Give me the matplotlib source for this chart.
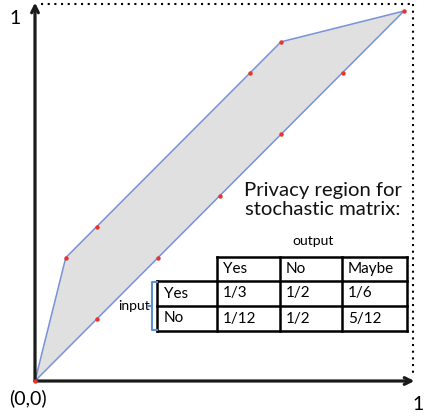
import numpy as np
import matplotlib
matplotlib.use('Agg')
import matplotlib.pyplot as plt
from matplotlib.patches import Polygon

plt.rcParams['font.family'] = ['Lato', 'DejaVu Sans']

# privacy region vertices (upper boundary then back along the diagonal)
region_x = [0, 1/12, 2/3, 1]
region_y = [0, 1/3, 11/12, 1]

# red points on the boundary
pts_x = [0, 1/12, 1/6, 7/12, 2/3, 1, 5/6, 2/3, 1/2, 1/3, 1/6]
pts_y = [0, 1/3, 5/12, 5/6, 11/12, 1, 5/6, 2/3, 1/2, 1/3, 1/6]

# stochastic matrix
col_labels = ['Yes', 'No', 'Maybe']
row_labels = ['Yes', 'No']
cells = [['1/3', '1/2', '1/6'],
         ['1/12', '1/2', '5/12']]

W, H = 430, 416
fig = plt.figure(figsize=(W / 100, H / 100), dpi=100)
ax = fig.add_axes([0, 0, 1, 1])
# pixel (35,381) -> (0,0), pixel (404,11) -> (1,1)
ux, uy = 369.0, 370.0
ax.set_xlim(-35 / ux, (W - 35) / ux)
ax.set_ylim((381 - H) / uy, 381 / uy)
ax.axis('off')


def fp(x, y):
    # figure pixel -> axes fraction
    return x / W, 1 - y / H


poly = Polygon(list(zip(region_x, region_y)), closed=True, facecolor='#e0e0e0',
               edgecolor='#7892d8', lw=1.1, zorder=2)
ax.add_patch(poly)

# dotted box
top = (381 - 4) / uy
right = (413 - 35) / ux
ax.plot([6 / ux, right], [top, top], color='black', lw=1.5, ls=(0, (1, 2.2)), zorder=1)
ax.plot([right, right], [top, 8 / uy], color='black', lw=1.5, ls=(0, (1, 2.2)), zorder=1)

# axes with arrows
ax.annotate('', xy=(0, top + 0.004), xytext=(0, 0),
            arrowprops=dict(arrowstyle='->', lw=2.3, color='#1a1a1a', shrinkA=0, shrinkB=0,
                            mutation_scale=12), zorder=3)
ax.annotate('', xy=(right + 0.004, 0), xytext=(0, 0),
            arrowprops=dict(arrowstyle='->', lw=2.3, color='#1a1a1a', shrinkA=0, shrinkB=0,
                            mutation_scale=12), zorder=3)

ax.plot(pts_x, pts_y, 'o', color='#e8352b', ms=3.2, mec='none', zorder=4)

ax.text(*fp(15, 19), '1', transform=ax.transAxes, fontsize=14, ha='center', va='center')
ax.text(*fp(28, 398), '(0,0)', transform=ax.transAxes, fontsize=14, ha='center', va='center')
ax.text(*fp(418, 405), '1', transform=ax.transAxes, fontsize=14, ha='center', va='center')

ax.text(*fp(323, 200), 'Privacy region for\nstochastic matrix:', transform=ax.transAxes,
        fontsize=14.6, ha='center', va='center', linespacing=1.15, color='#111111')
ax.text(*fp(313, 241), 'output', transform=ax.transAxes, fontsize=10, ha='center', va='center')
ax.text(*fp(150, 306), 'input', transform=ax.transAxes, fontsize=10, ha='right', va='center')

# table drawn as lines
xs = [157, 217, 280, 342, 407]
ys = [257, 281, 306, 331]
lw_t = 1.8
# header row (no corner cell)
for x in xs[1:]:
    ax.plot(*zip(fp(x, ys[0]), fp(x, ys[-1])), transform=ax.transAxes, color='black', lw=lw_t,
            solid_capstyle='projecting', zorder=5)
ax.plot(*zip(fp(xs[0], ys[1]), fp(xs[0], ys[-1])), transform=ax.transAxes, color='black', lw=lw_t,
        solid_capstyle='projecting', zorder=5)
ax.plot(*zip(fp(xs[1], ys[0]), fp(xs[-1], ys[0])), transform=ax.transAxes, color='black', lw=lw_t,
        solid_capstyle='projecting', zorder=5)
for y in ys[1:]:
    ax.plot(*zip(fp(xs[0], y), fp(xs[-1], y)), transform=ax.transAxes, color='black', lw=lw_t,
            solid_capstyle='projecting', zorder=5)

for j, lab in enumerate(col_labels):
    ax.text(*fp(xs[j + 1] + 6, (ys[0] + ys[1]) / 2), lab, transform=ax.transAxes,
            fontsize=11, ha='left', va='center', zorder=6)
for i, lab in enumerate(row_labels):
    yc = (ys[i + 1] + ys[i + 2]) / 2
    ax.text(*fp(xs[0] + 7, yc), lab, transform=ax.transAxes, fontsize=11, ha='left', va='center')
    for j, val in enumerate(cells[i]):
        ax.text(*fp(xs[j + 1] + 6, yc), val, transform=ax.transAxes, fontsize=11,
                ha='left', va='center')

# blue bracket for "input"
bx = [157, 152, 152, 148, 152, 152, 157]
by = [282, 282, 306, 306, 306, 330, 330]
ax.plot([b / W for b in bx], [1 - b / H for b in by], transform=ax.transAxes,
        color='#5b8fd0', lw=1.5, zorder=5)

fig.savefig('out.png', dpi=100)
